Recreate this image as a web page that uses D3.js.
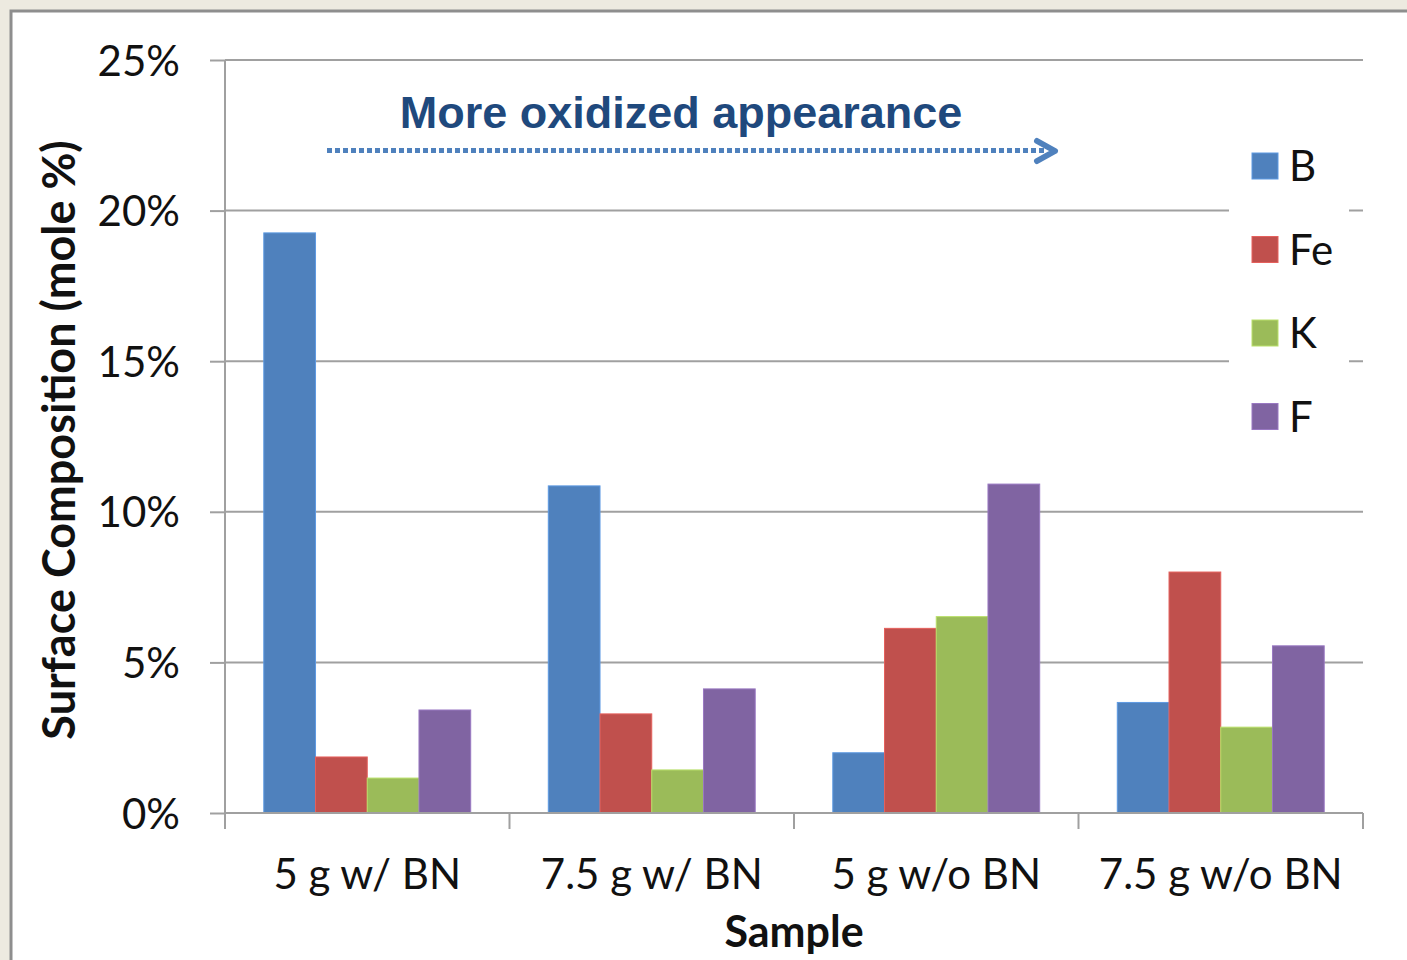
<!DOCTYPE html>
<html>
<head>
<meta charset="utf-8">
<script src="https://cdn.jsdelivr.net/npm/d3@7/dist/d3.min.js"></script>
<style>
  html, body { margin: 0; padding: 0; background: #EDEAE0; }
  svg { display: block; }
</style>
</head>
<body>
<svg id="chart" width="1407" height="960"></svg>
<script>
// Sample groups along the x axis
const samples = ["5 g w/ BN", "7.5 g w/ BN", "5 g w/o BN", "7.5 g w/o BN"];
// Elements measured at the surface
const elements = ["B", "Fe", "K", "F"];
// Surface composition, mole fraction, per element (one value per sample)
const valuesB  = [0.1926, 0.1086, 0.0200, 0.0367];
const valuesFe = [0.0186, 0.0329, 0.0613, 0.0800];
const valuesK  = [0.0116, 0.0143, 0.0652, 0.0285];
const valuesF  = [0.0342, 0.0412, 0.1092, 0.0555];
// Y axis tick values
const yTicks = [0, 0.05, 0.10, 0.15, 0.20, 0.25];
const elementColors = ["#4F81BD", "#C0504D", "#9BBB59", "#8064A2"];

const seriesValues = { B: valuesB, Fe: valuesFe, K: valuesK, F: valuesF };

const svg = d3.select("#chart");
const W = 1407, H = 960;
const plot = { left: 225, right: 1363, top: 60, bottom: 813 };
const labelFont = "Lato, 'Open Sans', sans-serif";
const axisGray = "#A0A0A0";

// Page background and framed white panel
svg.append("rect").attr("width", W).attr("height", H).attr("fill", "#EDEAE0");
svg.append("rect")
  .attr("x", 11).attr("y", 11).attr("width", W + 20).attr("height", H + 20)
  .attr("fill", "#FFFFFF").attr("stroke", "#8E8E8E").attr("stroke-width", 3);

const y = d3.scaleLinear().domain([0, 0.25]).range([plot.bottom, plot.top]);
const x0 = d3.scaleBand().domain(samples).range([plot.left, plot.right]).paddingInner(0).paddingOuter(0);
const x1 = d3.scaleBand().domain(elements).range([0, x0.bandwidth()]).paddingInner(0).paddingOuter(0.75);
const color = d3.scaleOrdinal().domain(elements).range(elementColors);

// Horizontal gridlines
svg.append("g").selectAll("line")
  .data(yTicks.filter(d => d > 0))
  .join("line")
  .attr("x1", plot.left).attr("x2", plot.right)
  .attr("y1", d => y(d)).attr("y2", d => y(d))
  .attr("stroke", axisGray).attr("stroke-width", 2);

// Y axis
const yAxis = svg.append("g")
  .attr("transform", `translate(${plot.left},0)`)
  .call(d3.axisLeft(y).tickValues(yTicks).tickFormat(d3.format(".0%")).tickSize(15).tickSizeOuter(0).tickPadding(30));
yAxis.select(".domain").remove();
yAxis.selectAll(".tick line").attr("stroke", axisGray).attr("stroke-width", 2);
yAxis.selectAll(".tick text")
  .attr("font-family", labelFont).attr("font-size", 42).attr("fill", "#111").attr("dy", "0.36em");
svg.append("line")
  .attr("x1", plot.left).attr("x2", plot.left)
  .attr("y1", plot.top).attr("y2", plot.bottom + 16)
  .attr("stroke", axisGray).attr("stroke-width", 2);

// Bars
const groups = svg.append("g").selectAll("g")
  .data(samples)
  .join("g")
  .attr("transform", d => `translate(${x0(d)},0)`);
groups.selectAll("rect")
  .data((s, i) => elements.map(e => ({ element: e, value: seriesValues[e][i] })))
  .join("rect")
  .attr("x", d => x1(d.element))
  .attr("width", x1.bandwidth())
  .attr("y", d => y(d.value))
  .attr("height", d => y(0) - y(d.value))
  .attr("fill", d => color(d.element))
  .attr("stroke", d => d3.color(color(d.element)).brighter(0.5))
  .attr("stroke-width", 1);

// X axis: baseline, category boundary ticks and labels
svg.append("line")
  .attr("x1", plot.left).attr("x2", plot.right)
  .attr("y1", y(0)).attr("y2", y(0))
  .attr("stroke", axisGray).attr("stroke-width", 2);
const boundaries = samples.map(s => x0(s)).concat([x0(samples[samples.length - 1]) + x0.bandwidth()]);
svg.append("g").selectAll("line")
  .data(boundaries)
  .join("line")
  .attr("x1", d => d).attr("x2", d => d)
  .attr("y1", y(0)).attr("y2", y(0) + 16)
  .attr("stroke", axisGray).attr("stroke-width", 2);
const xAxis = svg.append("g")
  .attr("transform", `translate(0,${y(0)})`)
  .call(d3.axisBottom(x0).tickSize(0).tickPadding(46));
xAxis.select(".domain").remove();
xAxis.selectAll(".tick text")
  .attr("font-family", labelFont).attr("font-size", 42).attr("fill", "#111");

// Axis titles
svg.append("text")
  .attr("x", (plot.left + plot.right) / 2).attr("y", 947)
  .attr("text-anchor", "middle")
  .attr("font-family", labelFont).attr("font-weight", 700).attr("font-size", 43)
  .attr("fill", "#111").text("Sample");
svg.append("text")
  .attr("transform", `translate(75,440) rotate(-90)`)
  .attr("text-anchor", "middle")
  .attr("font-family", labelFont).attr("font-weight", 700).attr("font-size", 45)
  .attr("fill", "#111").text("Surface Composition (mole %)");

// Legend, on a white panel over the gridlines
const legend = svg.append("g");
legend.append("rect")
  .attr("x", 1229).attr("y", 128).attr("width", 120).attr("height", 318)
  .attr("fill", "#FFFFFF");
const legendItems = legend.selectAll("g.item")
  .data(elements)
  .join("g").attr("class", "item")
  .attr("transform", (d, i) => `translate(1252,${153 + i * 83.5})`);
legendItems.append("rect")
  .attr("width", 26).attr("height", 26)
  .attr("fill", d => color(d))
  .attr("stroke", d => d3.color(color(d)).brighter(0.5)).attr("stroke-width", 1);
legendItems.append("text")
  .attr("x", 37).attr("y", 13).attr("dy", "0.36em")
  .attr("font-family", labelFont).attr("font-size", 42).attr("fill", "#111")
  .text(d => d);

// Annotation: trend label with a dotted arrow
svg.append("text")
  .attr("x", 681).attr("y", 128)
  .attr("text-anchor", "middle")
  .attr("font-family", "'Liberation Sans', Arial, sans-serif").attr("font-weight", 700).attr("font-size", 45)
  .attr("fill", "#1F497D").text("More oxidized appearance");
svg.append("line")
  .attr("x1", 327).attr("x2", 1046).attr("y1", 150.5).attr("y2", 150.5)
  .attr("stroke", "#4F81BD").attr("stroke-width", 5).attr("stroke-dasharray", "5 3");
svg.append("polyline")
  .attr("points", "1037,141 1055,151 1037,161")
  .attr("fill", "none").attr("stroke", "#4F81BD").attr("stroke-width", 6)
  .attr("stroke-linecap", "round").attr("stroke-linejoin", "round");
</script>
</body>
</html>
